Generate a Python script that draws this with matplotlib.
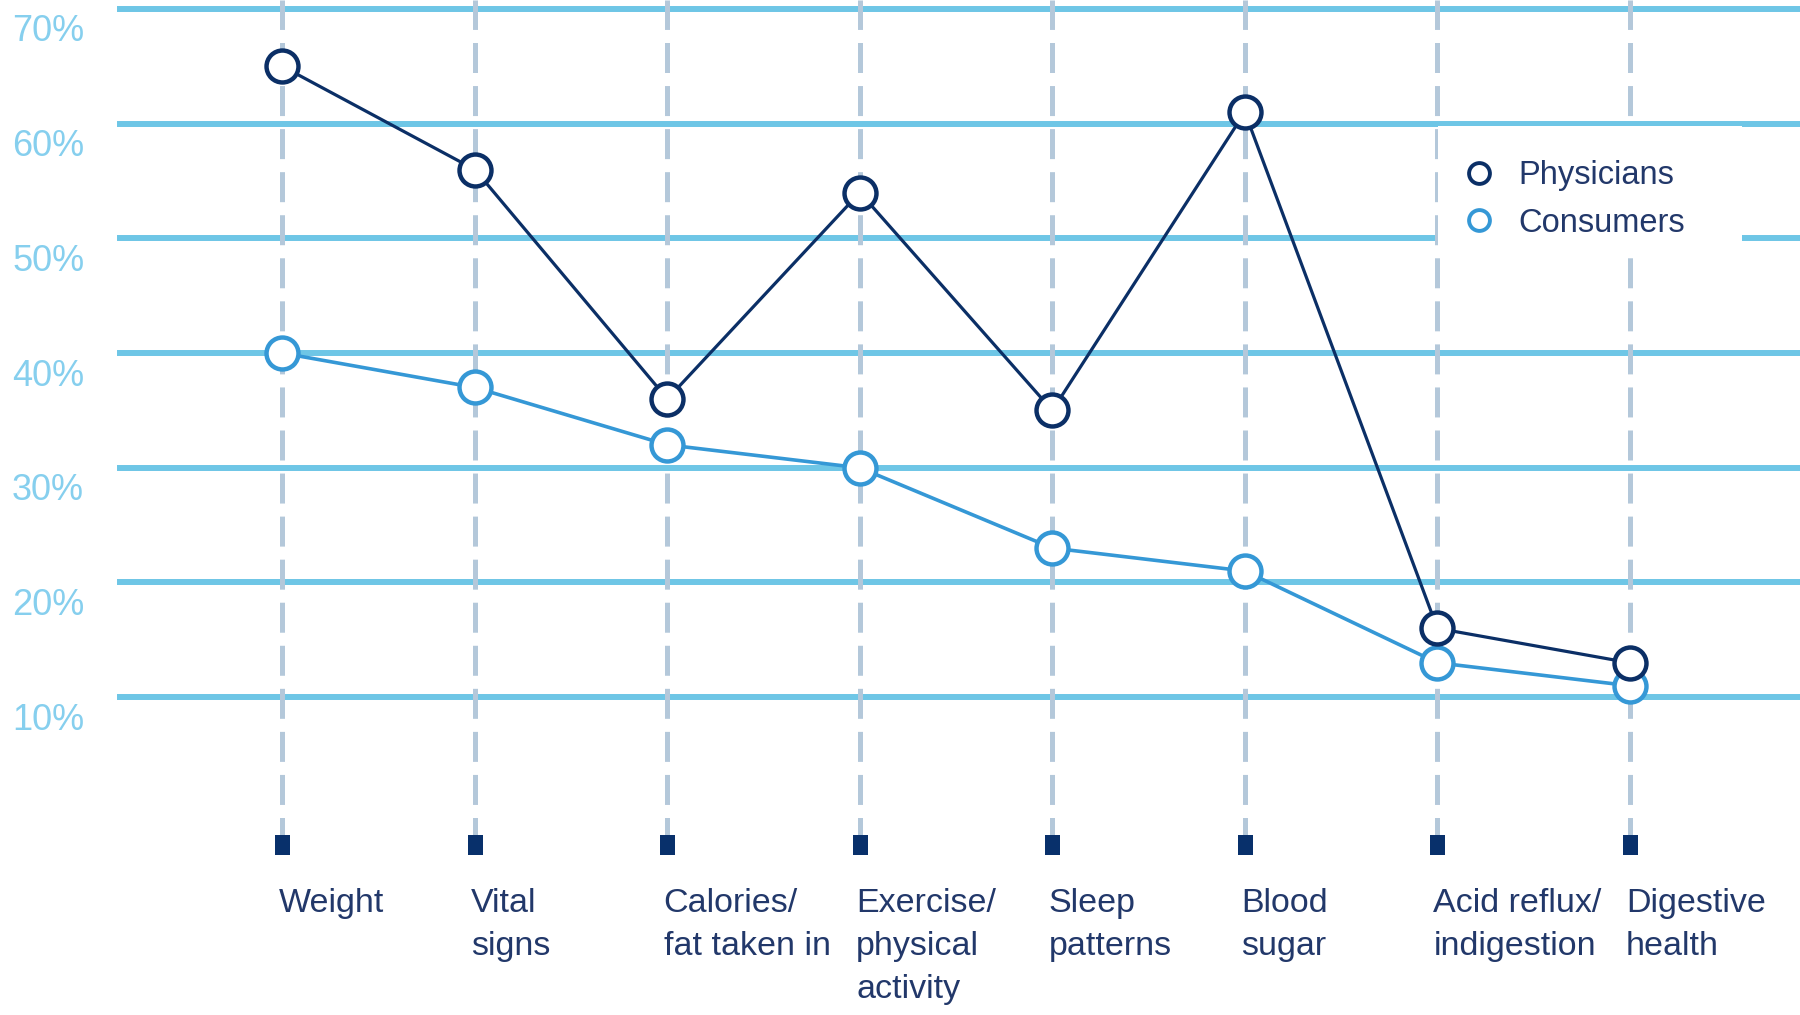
import matplotlib.pyplot as plt
from matplotlib.lines import Line2D
from matplotlib.patches import Rectangle

# categories and survey values (percent)
categories = ["Weight", "Vital\nsigns", "Calories/\nfat taken in", "Exercise/\nphysical\nactivity",
              "Sleep\npatterns", "Blood\nsugar", "Acid reflux/\nindigestion", "Digestive\nhealth"]
physicians = [65, 56, 36, 54, 35, 61, 16, 13]
consumers = [40, 37, 32, 30, 23, 21, 13, 11]
grid_vals = [10, 20, 30, 40, 50, 60, 70]
grid_labels = ["10%", "20%", "30%", "40%", "50%", "60%", "70%"]

navy = "#0b2f66"
blue = "#3598d6"
grid_col = "#6ec6e6"
dash_col = "#b4c8da"
text_col = "#22386a"

plt.rcParams['font.family'] = ['Liberation Sans', 'DejaVu Sans']
plt.rcParams['lines.scale_dashes'] = False

fig = plt.figure(figsize=(18, 10.15), dpi=100)
ax = fig.add_axes([0, 0, 1, 1])
ax.set_xlim(-1.467, 7.884)
ax.set_ylim(-17.71, 70.785)
ax.axis('off')

x = list(range(len(categories)))

# horizontal grid lines + labels slightly below each line
for v, lbl in zip(grid_vals, grid_labels):
    ax.axhline(v, xmin=0.0667, xmax=1, color=grid_col, lw=4.3, zorder=1)
    ax.text(0.0067, v - 2.0, lbl, transform=ax.get_yaxis_transform(), ha='left', va='center',
            fontsize=26, color="#86cfee")

# dashed verticals from top down to the tick squares
vl = ax.vlines(x, -2.0, 70.785, color=dash_col, lw=3.6, zorder=2)
vl.set_linestyle((9, (21.6, 9.4)))

ax.plot(x, [-2.9] * len(x), ls='none', color="#08306b", zorder=3,
        marker=[(-0.75, -1), (0.75, -1), (0.75, 1), (-0.75, 1)], ms=14.4, mew=0)

for i, c in enumerate(categories):
    ax.text(i - 0.02, -6.6, c, ha='left', va='top', fontsize=24.5, color=text_col, linespacing=1.5)

# series
ax.plot(x, physicians, color=navy, lw=2.3, marker='o', ms=23, mfc='white', mec=navy, mew=3.2, zorder=5)
ax.plot(x, consumers, color=blue, lw=2.6, marker='o', ms=23, mfc='white', mec=blue, mew=3.2, zorder=4)

# white legend box over the grid
ax.add_patch(Rectangle((6.005, 49.16), 1.576, 10.64, facecolor='white', edgecolor='none', zorder=6))
handles = [Line2D([], [], ls='none', marker='o', ms=15, mfc='white', mec=navy, mew=2.8),
           Line2D([], [], ls='none', marker='o', ms=15, mfc='white', mec=blue, mew=2.8)]
leg = ax.legend(handles, ["Physicians", "Consumers"], loc='upper left', bbox_to_anchor=(0.8125, 0.842),
                bbox_transform=fig.transFigure, frameon=False, fontsize=23.5, handlelength=1.0,
                handletextpad=0.7, labelspacing=0.5, borderpad=0, borderaxespad=0)
for t in leg.get_texts():
    t.set_color(text_col)
leg.set_zorder(7)

fig.savefig("out.png", dpi=100)
